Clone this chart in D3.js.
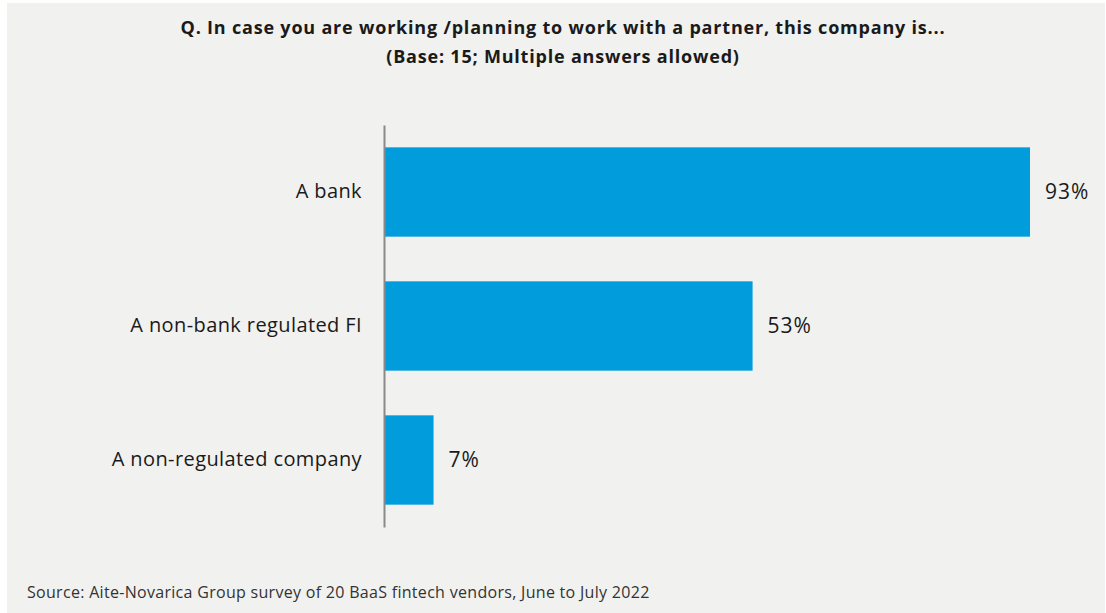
<!DOCTYPE html>
<html>
<head>
<meta charset="utf-8">
<script src="https://cdn.jsdelivr.net/npm/d3@7"></script>
<style>
  html, body { margin: 0; padding: 0; background: #ffffff; }
  svg { display: block; }
</style>
</head>
<body>
<svg id="chart" width="1106" height="613"></svg>
<script>
// Survey answers (share of respondents, %)
const categories = ["A bank", "A non-bank regulated FI", "A non-regulated company"];
const values = [93, 53, 7];
const valueLabels = ["93%", "53%", "7%"];
const titleLines = [
  "Q. In case you are working /planning to work with a partner, this company is...",
  "(Base: 15; Multiple answers allowed)"
];
const sourceNote = "Source: Aite-Novarica Group survey of 20 BaaS fintech vendors, June to July 2022";

const W = 1106, H = 613;
const svg = d3.select("#chart");
const font = "'Open Sans', sans-serif";

// panel background
svg.append("rect")
  .attr("x", 7).attr("y", 3)
  .attr("width", W - 8).attr("height", H - 3)
  .attr("fill", "#f1f1ef");

// title
svg.append("g")
  .selectAll("text")
  .data(titleLines)
  .join("text")
  .attr("x", 563)
  .attr("y", (d, i) => 34 + i * 29)
  .attr("text-anchor", "middle")
  .attr("font-family", font)
  .attr("font-weight", 700)
  .attr("font-size", 18)
  .attr("letter-spacing", 0.8)
  .attr("fill", "#1a1a1a")
  .text(d => d);

const x0 = 385;
const x = d3.scaleLinear().domain([0, 93]).range([x0, 1030]);
const y = d3.scaleBand()
  .domain(categories)
  .range([125, 527])
  .paddingInner(1 / 3)
  .paddingOuter(1 / 6);

const data = categories.map((c, i) => ({ c, v: values[i], label: valueLabels[i] }));

// bars
svg.append("g")
  .selectAll("rect")
  .data(data)
  .join("rect")
  .attr("x", x(0))
  .attr("y", d => y(d.c))
  .attr("width", d => x(d.v) - x(0))
  .attr("height", y.bandwidth())
  .attr("fill", "#009cdc");

// category axis
const axis = svg.append("g")
  .attr("transform", `translate(${x0 - 1},0)`)
  .call(d3.axisLeft(y).tickSize(0).tickPadding(22));
axis.select(".domain")
  .attr("stroke", "#8a8a8a")
  .attr("stroke-width", 2);
axis.selectAll("text")
  .attr("font-family", font)
  .attr("font-size", 20)
  .attr("letter-spacing", 0.4)
  .attr("fill", "#1a1a1a");

// value labels
svg.append("g")
  .selectAll("text")
  .data(data)
  .join("text")
  .attr("x", d => x(d.v) + 15)
  .attr("y", d => y(d.c) + y.bandwidth() / 2)
  .attr("dy", "0.35em")
  .attr("font-family", font)
  .attr("font-size", 21)
  .attr("letter-spacing", 1)
  .attr("fill", "#1a1a1a")
  .text(d => d.label);

// source note
svg.append("text")
  .attr("x", 27)
  .attr("y", 598)
  .attr("font-family", font)
  .attr("font-size", 16)
  .attr("letter-spacing", 0.3)
  .attr("fill", "#333333")
  .text(sourceNote);
</script>
</body>
</html>
